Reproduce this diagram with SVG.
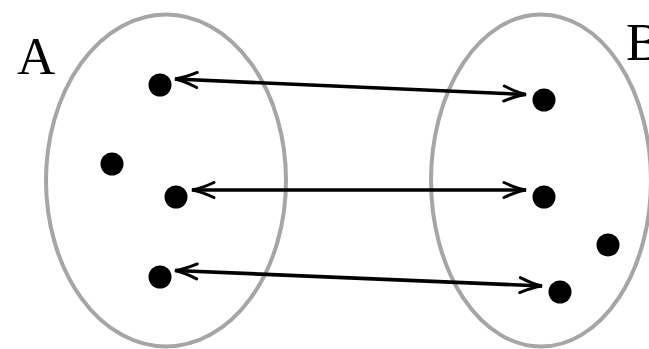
<svg xmlns="http://www.w3.org/2000/svg" width="649" height="349" viewBox="0 0 649 349">
  <style>
    .set { fill: none; stroke: #a6a6a6; stroke-width: 4; }
    .pt { fill: #000; }
    .lbl { font-family: "Liberation Serif", "Times New Roman", serif; font-size: 53px; fill: #000; }
    .conn { stroke: #000; stroke-width: 3.6; fill: none; marker-start: url(#tip); marker-end: url(#tip); }
  </style>
  <defs>
    <marker id="tip" markerUnits="userSpaceOnUse" viewBox="-26 -10 28 20" refX="0" refY="0" markerWidth="28" markerHeight="20" orient="auto-start-reverse" overflow="visible">
      <path d="M -22,-7.5 Q -9,-1.5 0,0 Q -9,1.5 -22,7.5" fill="none" stroke="#000" stroke-width="3" stroke-linecap="round" stroke-linejoin="miter"/>
    </marker>
  </defs>
  <rect width="649" height="349" fill="#fff"/>
  <g id="setA">
    <ellipse class="set" cx="166" cy="180.5" rx="120" ry="166"/>
    <text class="lbl" x="17" y="74">A</text>
  </g>
  <g id="setB">
    <ellipse class="set" cx="541" cy="180.5" rx="110" ry="166"/>
    <text class="lbl" x="626" y="60">B</text>
  </g>
  <g id="a1"><circle class="pt" cx="160" cy="85" r="11.5"/></g>
  <g id="a2"><circle class="pt" cx="112" cy="164" r="11.5"/></g>
  <g id="a3"><circle class="pt" cx="176" cy="197" r="11.5"/></g>
  <g id="a4"><circle class="pt" cx="160" cy="277" r="11.5"/></g>
  <g id="b1"><circle class="pt" cx="544" cy="100" r="11.5"/></g>
  <g id="b2"><circle class="pt" cx="544" cy="197" r="11.5"/></g>
  <g id="b3"><circle class="pt" cx="608" cy="245" r="11.5"/></g>
  <g id="b4"><circle class="pt" cx="560" cy="292" r="11.5"/></g>
  <g id="connectors">
    <line class="conn" x1="175" y1="79" x2="526" y2="94.5"/>
    <line class="conn" x1="192" y1="190" x2="526" y2="190"/>
    <line class="conn" x1="175" y1="270.5" x2="542" y2="286"/>
  </g>
</svg>
